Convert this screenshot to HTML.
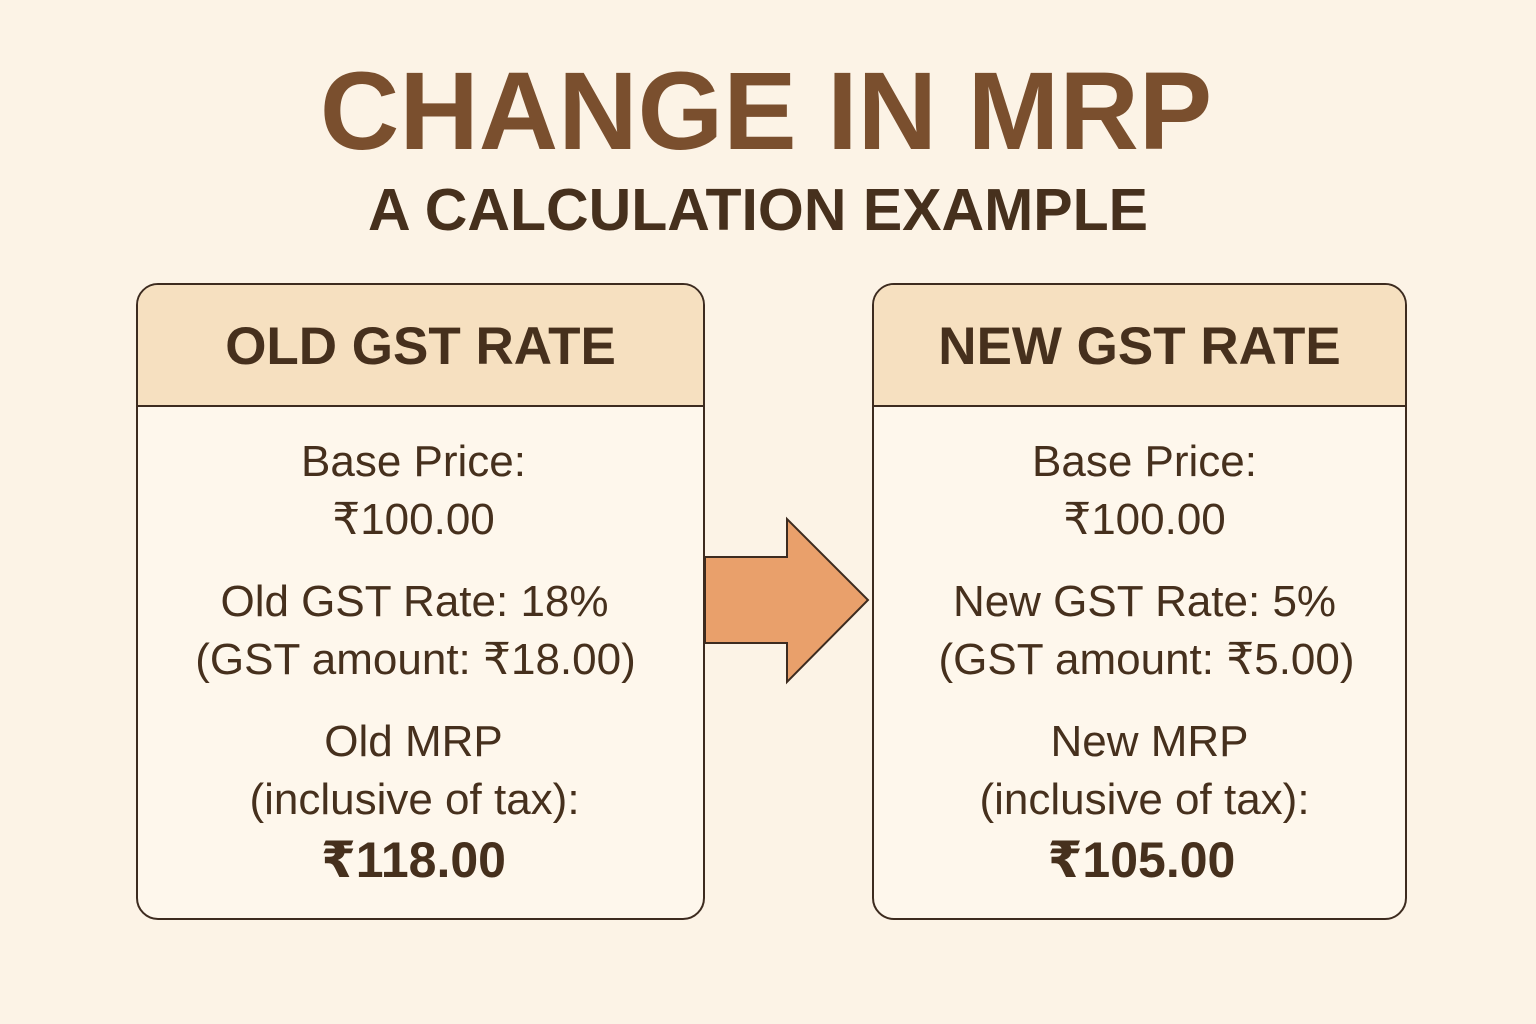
<!DOCTYPE html>
<html><head><meta charset="utf-8"><style>
html,body{margin:0;padding:0}
body{width:1536px;height:1024px;background:#fcf3e6;position:relative;overflow:hidden;font-family:"Liberation Sans","DejaVu Sans",sans-serif;color:#46301d}
.t{position:absolute;left:0;width:1536px;text-align:center;white-space:nowrap}
.box{position:absolute;top:283px;height:637px;border:2px solid #3d2b1f;border-radius:22px;background:#fef7ec;overflow:hidden;box-sizing:border-box}
.hd{position:absolute;left:0;right:0;top:0;height:120px;background:#f6e0c0;border-bottom:2px solid #3d2b1f;font-weight:bold;font-size:53px;line-height:124px;text-align:center;color:#46301d}
.ln{position:absolute;left:0;right:0;text-align:center;font-size:44px;line-height:50px;white-space:nowrap}
</style></head><body>
<div class="t" style="top:52px;font-size:110px;font-weight:bold;color:#7a4f2e;line-height:120px;left:-2px">CHANGE IN MRP</div>
<div class="t" style="top:177px;font-size:59px;font-weight:bold;color:#46301d;line-height:66px;left:-10px">A CALCULATION EXAMPLE</div>

<div class="box" style="left:136px;width:569px">
<div class="hd">OLD GST RATE</div>
<div class="ln" style="top:152px;left:-14px">Base Price:</div>
<div class="ln" style="top:210px;left:-14px">₹100.00</div>
<div class="ln" style="top:292px;left:-12px">Old GST Rate: 18%</div>
<div class="ln" style="top:350px;left:-10px">(GST amount: ₹18.00)</div>
<div class="ln" style="top:432px;left:-14px">Old MRP</div>
<div class="ln" style="top:490px;left:-12px">(inclusive of tax):</div>
<div class="ln" style="top:550px;font-weight:bold;font-size:50px;left:-14px">₹118.00</div>
</div>

<div class="box" style="left:872px;width:535px">
<div class="hd">NEW GST RATE</div>
<div class="ln" style="top:152px;left:10px">Base Price:</div>
<div class="ln" style="top:210px;left:10px">₹100.00</div>
<div class="ln" style="top:292px;left:10px">New GST Rate: 5%</div>
<div class="ln" style="top:350px;left:14px">(GST amount: ₹5.00)</div>
<div class="ln" style="top:432px;left:20px">New MRP</div>
<div class="ln" style="top:490px;left:10px">(inclusive of tax):</div>
<div class="ln" style="top:550px;font-weight:bold;font-size:50px;left:4px">₹105.00</div>
</div>

<svg style="position:absolute;left:0;top:0" width="1536" height="1024">
<polygon points="705,557 787,557 787,519 868,600 787,682 787,643 705,643" fill="#e9a06b" stroke="#3d2b1f" stroke-width="2"/>
</svg>
</body></html>
